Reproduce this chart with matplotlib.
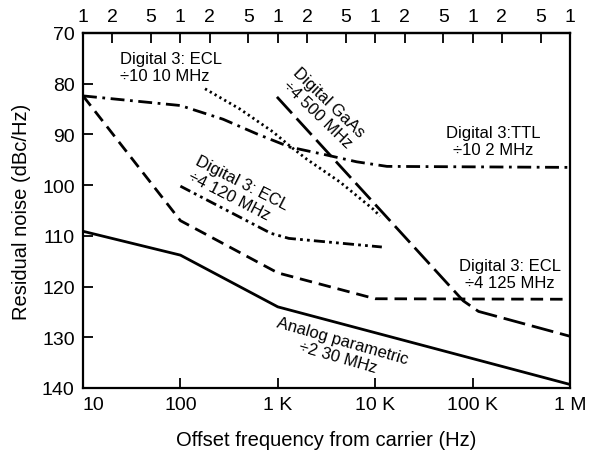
import matplotlib
matplotlib.use("Agg")
import matplotlib.pyplot as plt
import numpy as np

plt.rcParams['font.family'] = ['Liberation Sans', 'DejaVu Sans']

# ---- data (offset frequency Hz, residual noise dBc/Hz) ----
analog_f = [10, 100, 1000, 1e6]
analog_y = [109.1, 113.8, 124.0, 139.3]

ecl125_f = [10, 100, 1000, 10000, 1e6]
ecl125_y = [82.4, 107.0, 117.3, 122.4, 122.5]

ttl_f = [10, 100, 274, 611, 1333, 2910, 6460, 13200, 1e6]
ttl_y = [82.4, 84.3, 87.0, 89.9, 92.5, 93.9, 95.4, 96.3, 96.5]

ecl10_f = [179, 409, 893, 1333, 1990, 4360, 9480, 11200]
ecl10_y = [81.0, 85.0, 89.5, 92.3, 94.9, 99.4, 104.7, 106.1]

gaas_f = [980, 80000, 115000, 1e6]
gaas_y = [82.6, 122.8, 124.9, 129.8]

ecl120_f = [100, 850, 1300, 11700]
ecl120_y = [100.2, 109.5, 110.5, 112.2]

bottom_ticks = [10, 100, 1000, 10000, 100000, 1000000]
bottom_labels = ['10', '100', '1 K', '10 K', '100 K', '1 M']
top_ticks = [10, 20, 50, 100, 200, 500, 1e3, 2e3, 5e3, 1e4, 2e4, 5e4, 1e5, 2e5, 5e5, 1e6]
top_labels = ['1', '2', '5', '1', '2', '5', '1', '2', '5', '1', '2', '5', '1', '2', '5', '1']
y_ticks = [70, 80, 90, 100, 110, 120, 130, 140]

labels = [
    ("Digital 3: ECL\n÷10 10 MHz", 24, 76.7, 0, 'left'),
    ("Digital GaAs\n÷4 500 MHz", 2910, 84.8, -44, 'center'),
    ("Digital 3:TTL\n÷10 2 MHz", 162000, 91.3, 0, 'center'),
    ("Digital 3: ECL\n÷4 120 MHz", 390, 101.0, -27, 'left'),
    ("Digital 3: ECL\n÷4 125 MHz", 240000, 117.6, 0, 'center'),
    ("Analog parametric\n÷2 30 MHz", 4370, 132.3, -16, 'center'),
]

fig = plt.figure(figsize=(5.89, 4.52), dpi=100)
ax = fig.add_axes([83/589, 1-389/452, (570-83)/589, (389-34)/452])

lw = 2.0
ax.plot(analog_f, analog_y, color='black', lw=lw, solid_joinstyle='round')
ax.plot(ecl125_f, ecl125_y, color='black', lw=lw, dashes=(4.5, 2.5))
ax.plot(ttl_f, ttl_y, color='black', lw=lw, dashes=(5, 2, 1, 2))
ax.plot(ecl10_f, ecl10_y, color='black', lw=lw, dashes=(0.8, 1.2))
ax.plot(gaas_f, gaas_y, color='black', lw=lw, dashes=(8, 2.5))
ax.plot(ecl120_f, ecl120_y, color='black', lw=lw, dashes=(4, 1.5, 1, 1.5, 1, 1.5))

ax.set_xscale('log')
ax.set_xlim(10, 1e6)
ax.set_ylim(140, 70)

for s in ax.spines.values():
    s.set_linewidth(1.6)

ax.set_xticks(bottom_ticks)
ax.set_xticklabels(bottom_labels)
ax.xaxis.set_minor_locator(matplotlib.ticker.NullLocator())
ax.tick_params(axis='x', which='major', direction='in', length=7, width=1.3,
               labelsize=14, pad=6)
ax.get_xticklabels()[0].set_ha('left')

ax.set_yticks(y_ticks)
ax.tick_params(axis='y', which='major', direction='in', length=7, width=1.3,
               labelsize=14, pad=6)

top = ax.secondary_xaxis('top')
top.set_xticks(top_ticks)
top.set_xticklabels(top_labels)
top.xaxis.set_minor_locator(matplotlib.ticker.NullLocator())
top.tick_params(axis='x', which='major', direction='in', length=7, width=1.3,
                labelsize=14, pad=6)
top.spines['top'].set_linewidth(1.6)

ax.set_xlabel('Offset frequency from carrier (Hz)', fontsize=14.5, labelpad=12)
ax.set_ylabel('Residual noise (dBc/Hz)', fontsize=14.5, labelpad=8)

for txt, fx, fy, rot, ma in labels:
    ha = 'left' if (ma == 'left' and rot == 0) else 'center'
    ax.text(fx, fy, txt, fontsize=12, rotation=rot, ha=ha, va='center',
            multialignment=ma, linespacing=1.15)

fig.savefig('out.png', dpi=100)
